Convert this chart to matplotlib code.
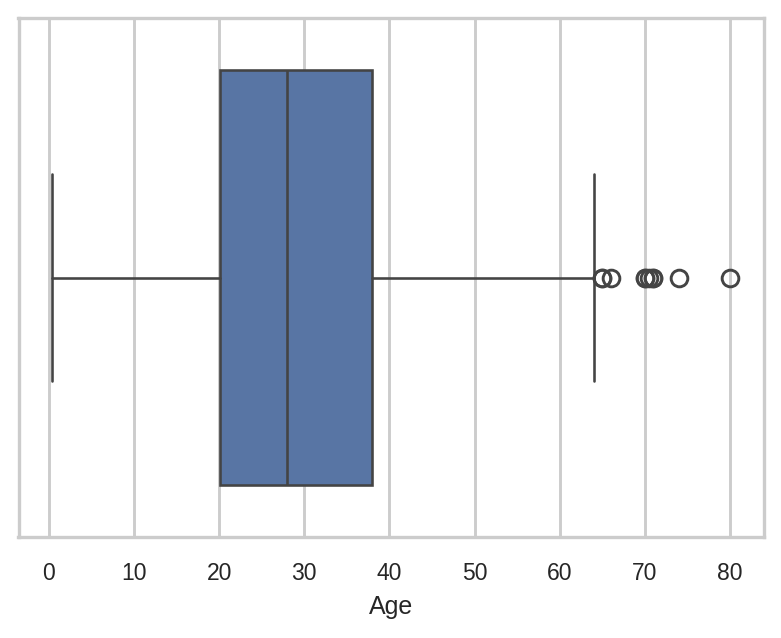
import matplotlib
matplotlib.use("Agg")
import matplotlib.pyplot as plt
import seaborn as sns

# box statistics (Titanic ages)
age_min = 0.42
age_q1 = 20.125
age_median = 28.0
age_q3 = 38.0
age_whisker_hi = 64.0
age_outliers = [65, 65, 66, 70, 70, 70.5, 71, 71, 74, 80]

sns.set_theme(style="whitegrid", context="notebook")
plt.rcParams['font.family'] = ['Liberation Sans', 'DejaVu Sans']

fig = plt.figure(figsize=(782/150, 638/150), dpi=150)
ax = fig.add_axes([18.5/782, 1 - 537/638, (764 - 18.5)/782, (537 - 18)/638])

stats = [dict(whislo=age_min, q1=age_q1, med=age_median, q3=age_q3,
              whishi=age_whisker_hi, fliers=age_outliers)]
line_c = "#444444"
ax.bxp(stats, positions=[0], widths=0.8, vert=False, patch_artist=True,
       boxprops=dict(facecolor="#5875a4", edgecolor=line_c, linewidth=1.25),
       medianprops=dict(color=line_c, linewidth=1.25),
       whiskerprops=dict(color=line_c, linewidth=1.25),
       capprops=dict(color=line_c, linewidth=1.25),
       flierprops=dict(marker='o', markerfacecolor='none', markeredgecolor=line_c,
                       markersize=8, markeredgewidth=1.4),
       capwidths=0.4)

ax.set_ylim(0.5, -0.5)
ax.set_yticks([])
ax.set_xlim(age_min - 0.05*(80 - age_min), 80 + 0.05*(80 - age_min))
ax.set_xticks(range(0, 81, 10))
ax.tick_params(axis='x', pad=6)
ax.set_xlabel("Age", labelpad=5)
ax.grid(axis='y', visible=False)
ax.grid(axis='x', visible=True, linewidth=1.4)
for sp in ax.spines.values():
    sp.set_linewidth(1.6)
ax.set_axisbelow(True)

fig.savefig("out.png", dpi=150)
